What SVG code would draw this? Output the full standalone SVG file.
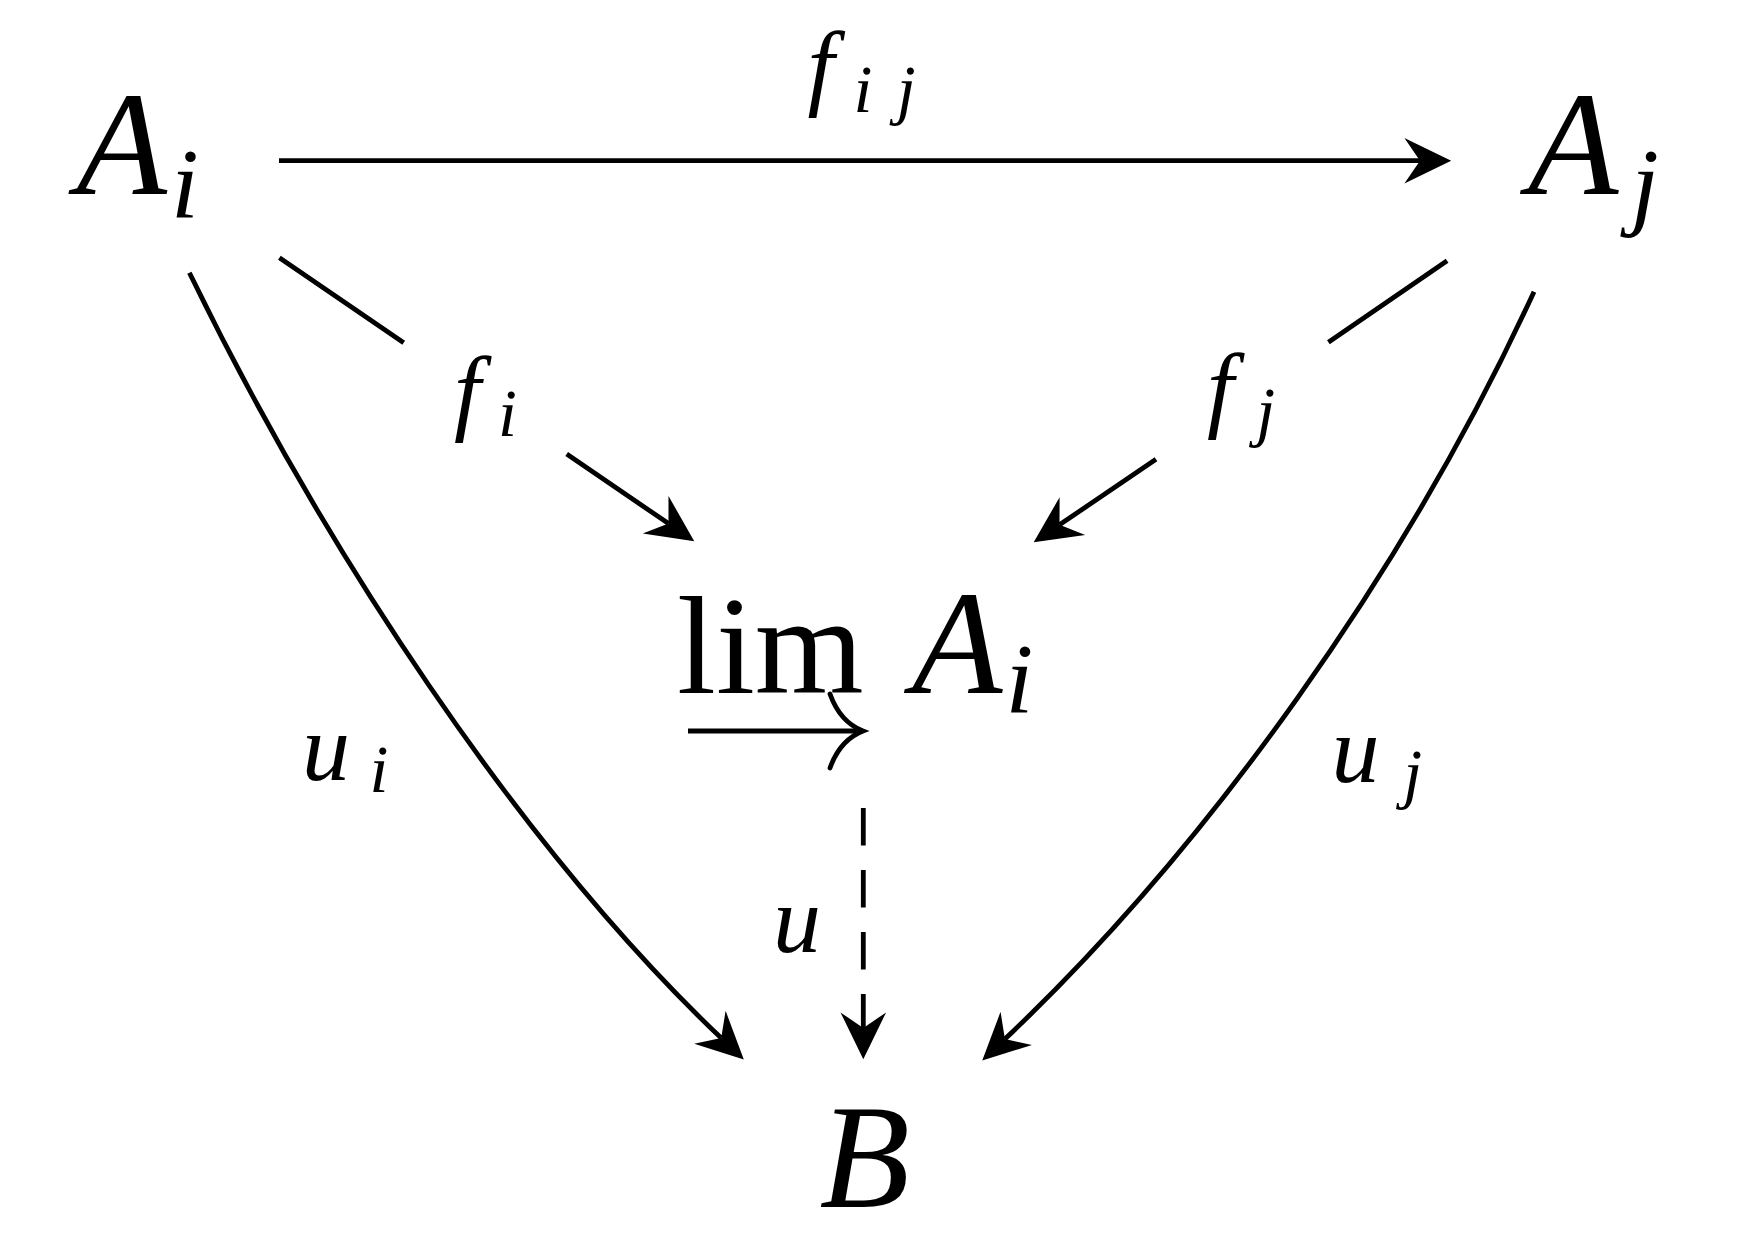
<svg xmlns="http://www.w3.org/2000/svg" width="1739" height="1260" viewBox="0 0 1739 1260">
<style>
text{font-family:"Liberation Serif","Times New Roman",serif;fill:#000}
.n{font-style:italic;font-size:148px}
.s{font-style:italic;font-size:100px}
.l{font-style:italic;font-size:96px}
.ls{font-style:italic;font-size:68px}
.up{font-size:140px}
.c{fill:none;stroke:#000;stroke-width:4.8}
.d{stroke-dasharray:37.5 24.5}
</style>
<defs>
<marker id="ah" markerUnits="userSpaceOnUse" orient="auto" markerWidth="60" markerHeight="60" refX="-26" refY="0" viewBox="-45 -25 50 50" overflow="visible">
<path d="M0,0 L-39,-19 L-26,0 L-39,19 Z" fill="#000"/>
</marker>
</defs>
<rect width="1739" height="1260" fill="#fff"/>
<g id="connectors">
<path id="e-fij" class="c" d="M279,160.7 L1420,160.7" marker-end="url(#ah)"/>
<path id="e-fi" class="c" d="M279.4,257.7 L403.7,342.7 M566.7,454 L668.5,523.6" marker-end="url(#ah)"/>
<path id="e-fj" class="c" d="M1447.1,260.7 L1328.4,342.3 M1156,459.3 L1059.5,524.8" marker-end="url(#ah)"/>
<path id="e-ui" class="c" d="M189.4,272.7 C322.2,546 518.4,845.1 721.2,1038.1" marker-end="url(#ah)"/>
<path id="e-uj" class="c" d="M1534,291.7 C1406.5,569.7 1207.9,846.9 1004.9,1039.1" marker-end="url(#ah)"/>
<path id="e-u" class="c d" d="M863.3,808 L863.3,1028" marker-end="url(#ah)"/>
</g>
<g id="node-Ai">
<text class="n" x="76.5" y="194">A</text>
<text class="s" x="171" y="217">i</text>
</g>
<g id="node-Aj">
<text class="n" x="1528" y="194">A</text>
<text class="s" x="1631" y="217">j</text>
</g>
<g id="node-lim">
<text class="up" x="677" y="693">lim</text>
<path class="c" d="M688,731 L858,731" stroke-width="4.5"/>
<path class="c" d="M830,694 Q840,722 863,731 Q840,740 830,768" stroke-width="4.5" stroke-linecap="round"/>
<text class="n" x="912" y="693">A</text>
<text class="s" x="1005.4" y="712">i</text>
</g>
<g id="node-B">
<text class="n" x="819.6" y="1207">B</text>
</g>
<g id="labels">
<g id="label-fij"><text class="l" x="807.5" y="98">f</text><text class="ls" x="853.4" y="112">i</text><text class="ls" x="896.8" y="112">j</text></g>
<g id="label-fi"><text class="l" x="454" y="423">f</text><text class="ls" x="498" y="436">i</text></g>
<g id="label-fj"><text class="l" x="1207" y="420">f</text><text class="ls" x="1256.3" y="434">j</text></g>
<g id="label-ui"><text class="l" x="302" y="780">u</text><text class="ls" x="369.4" y="792">i</text></g>
<g id="label-uj"><text class="l" x="1331.5" y="782">u</text><text class="ls" x="1403.3" y="796">j</text></g>
<g id="label-u"><text class="l" x="773" y="952">u</text></g>
</g>
</svg>
